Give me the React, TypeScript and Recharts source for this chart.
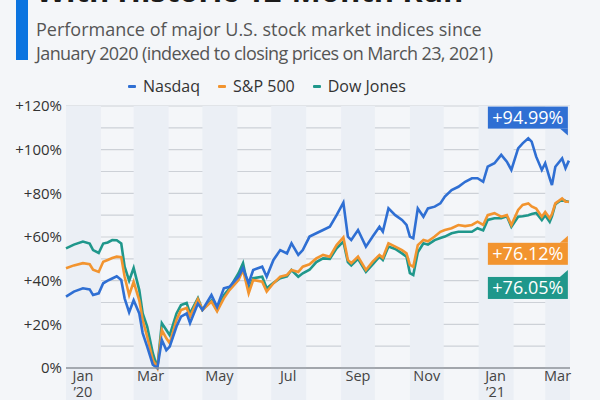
import { LineChart, Line, XAxis, YAxis, CartesianGrid, ReferenceArea, LabelList } from 'recharts';

// trading days counted from Jan 1, 2020
const days = [0, 7, 15, 21, 24, 29, 33, 37, 41, 45, 49, 52, 56, 60, 65, 68, 72, 77, 81, 85, 89, 92, 98, 102, 107, 110, 117, 121, 129, 134, 140, 145, 153, 157, 162, 166, 174, 178, 184, 190, 196, 200, 206, 210, 216, 222, 228, 234, 240, 246, 250, 253, 259, 266, 272, 278, 281, 286, 292, 298, 302, 305, 308, 312, 317, 321, 327, 332, 336, 342, 348, 354, 360, 365, 370, 374, 380, 386, 391, 395, 401, 405, 410, 413, 417, 422, 425, 429, 431, 434, 440, 443, 446];
const nasdaq = [32.7, 35, 36.5, 36, 33.4, 34.2, 38.8, 40, 41, 42, 40.3, 31.9, 25.5, 31, 25, 16, 9.8, 1.5, 0, 12.8, 8.2, 9.8, 19, 23.5, 25, 20.6, 29.5, 26.6, 33.4, 28, 36.5, 37.2, 41.8, 45.7, 38.8, 44.9, 46.4, 41.8, 49.5, 54, 52.5, 57.1, 51.8, 54, 60.2, 61.7, 63.2, 64.7, 70, 75.7, 60.2, 58.6, 63.2, 55.6, 60.2, 64.7, 62.5, 73.1, 70, 67.8, 65.5, 60.2, 59.4, 73.1, 69.3, 73.1, 73.9, 75.4, 78.5, 81.5, 83, 85.3, 86.9, 86.9, 85.3, 92.2, 93.8, 97.6, 94.5, 90.7, 100.6, 102.9, 105.2, 103.7, 96.8, 90.7, 93.8, 86.9, 83.8, 92.2, 96, 91.5, 94.99];
const sp500 = [45.7, 47, 48, 47.5, 45, 44, 48.7, 49.5, 50.4, 51, 50.8, 41.8, 33.4, 39.5, 31, 22, 14.3, 3.7, 0, 17.4, 13.6, 11.3, 22, 26.6, 27.5, 23.5, 31.5, 26.6, 30.4, 26, 31.9, 35.7, 40.3, 44.9, 34.2, 40.3, 39.5, 35, 38.8, 41.8, 42.6, 44.9, 44, 46.4, 47.5, 50.2, 51.8, 51, 56.3, 59.8, 49.5, 48, 51, 44.9, 48.7, 51.8, 50.5, 57.1, 55.6, 54, 52.5, 47.2, 46.4, 56.3, 58.6, 58, 60.2, 62.4, 63.2, 64, 65.5, 65, 65.5, 67, 65.5, 70, 70.9, 69.3, 70, 65.5, 72.4, 74.7, 75.4, 74, 73, 69.3, 71.5, 68.6, 70.5, 75.4, 77.7, 76.2, 76.12];
const dow = [54.8, 56.5, 57.9, 57, 54, 52.7, 57, 57.5, 58.6, 58.5, 57, 46.4, 40, 45.8, 35.7, 25, 19, 6.8, 0, 20.5, 17.4, 15, 25, 28.8, 29.8, 25, 32, 26.6, 31, 26.5, 33.4, 36.5, 43.4, 48, 35.7, 41.1, 41.8, 36.5, 39, 41.1, 42, 44.9, 41.8, 43.4, 45, 48.5, 50.2, 50, 54.8, 57.9, 48.5, 47, 50, 44, 47.5, 51, 49.5, 55.6, 54.5, 52.5, 51, 43.4, 42.6, 53, 57.1, 56.5, 58.6, 59.5, 60.2, 61.7, 62.4, 62.4, 62.4, 64, 63, 67.8, 68.6, 68.6, 69.5, 64.7, 69.3, 69.5, 70, 70.5, 71, 67.8, 70, 67, 69.5, 75, 77.2, 76.5, 76.05];

const shadedMonths = [[0, 31], [60, 91], [121, 152], [182, 213], [244, 274], [305, 335], [366, 397], [425, 447]];
const monthTicks = [15, 75, 136, 197, 259, 320, 381, 436];
const monthLabels = ['Jan', 'Mar', 'May', 'Jul', 'Sep', 'Nov', 'Jan', 'Mar'];
const yearLabels = ['’20', '', '', '', '', '', '’21', ''];
const yTicks = [0, 10, 20, 30, 40, 50, 60, 70, 80, 90, 100, 110, 120];

const data = days.map((d, i) => ({ day: d, nasdaq: nasdaq[i], sp500: sp500[i], dow: dow[i] }));

const FONT = '"Open Sans", sans-serif';
const BLUE = '#2f6fd3';
const ORANGE = '#f2942f';
const TEAL = '#1f978b';

const MonthTick = ({ x, y, payload }: any) => {
  const i = monthTicks.indexOf(payload.value);
  return (
    <g>
      <text x={x} y={y + 13} textAnchor="middle" fontSize={14.5} fill="#444" fontFamily={FONT}>{monthLabels[i]}</text>
      {yearLabels[i] && (
        <text x={x} y={y + 29} textAnchor="middle" fontSize={14.5} fill="#444" fontFamily={FONT}>{yearLabels[i]}</text>
      )}
    </g>
  );
};

const makeTag = (color: string, dy: number, tabUp: boolean) => (props: any) => {
  const { x, y, index, value } = props;
  if (index !== days.length - 1) return null;
  const x1 = x - 1;
  const x0 = x1 - 80;
  const y0 = y + dy;
  const y1 = y0 + 22;
  const tab = tabUp
    ? `${x1 - 8},${y0} ${x1},${y0} ${x1},${y0 - 7}`
    : `${x1 - 8},${y1} ${x1},${y1} ${x1},${y1 + 7}`;
  return (
    <g>
      <rect x={x0} y={y0} width={80} height={22} fill={color} />
      <polygon points={tab} fill={color} />
      <text x={(x0 + x1) / 2} y={y0 + 17} textAnchor="middle" fill="#fff" fontSize={18} fontFamily={FONT}>
        {`+${Number(value).toFixed(2)}%`}
      </text>
    </g>
  );
};

const legendItems = [
  { name: 'Nasdaq', color: BLUE },
  { name: 'S&P 500', color: ORANGE },
  { name: 'Dow Jones', color: TEAL },
];

export default function App() {
  return (
    <div style={{ position: 'absolute', left: 0, top: 0, width: 600, height: 400, background: '#f4f6f9', overflow: 'hidden', fontFamily: FONT }}>
      <div style={{ position: 'absolute', left: 16, top: 0, width: 12, height: 60, background: '#0b74e0' }} />
      <div style={{ position: 'absolute', left: 36, top: -31, fontSize: 31, fontWeight: 700, color: '#1b1b1b', whiteSpace: 'nowrap' }}>
        With Historic 12-Month Run
      </div>
      <div style={{ position: 'absolute', left: 36, top: 17, fontSize: 18, lineHeight: '24px', color: '#555', whiteSpace: 'nowrap' }}>
        <div>Performance of major U.S. stock market indices since</div>
        <div style={{ letterSpacing: -0.6 }}>January 2020 (indexed to closing prices on March 23, 2021)</div>
      </div>
      <div style={{ position: 'absolute', left: 128, top: 75, display: 'flex', gap: 18, fontSize: 16, color: '#333' }}>
        {legendItems.map((it) => (
          <div key={it.name} style={{ display: 'flex', alignItems: 'center' }}>
            <span style={{ display: 'inline-block', width: 8, height: 3, borderRadius: 1, background: it.color, marginRight: 7 }} />
            {it.name}
          </div>
        ))}
      </div>
      <div style={{ position: 'absolute', left: 0, top: 0 }}>
        <LineChart width={600} height={400} data={data} margin={{ top: 106, right: 30, bottom: 2, left: 8 }}>
          {shadedMonths.map(([a, b], i) => (
            <ReferenceArea key={i} x1={a} x2={b} y1={-15} y2={120} ifOverflow="visible" fill="#ebeff5" fillOpacity={1} stroke="none" />
          ))}
          <CartesianGrid vertical={false} stroke="#cdd1d7" strokeWidth={1.2} />
          <XAxis
            type="number"
            dataKey="day"
            domain={[0, 447]}
            ticks={monthTicks}
            tick={<MonthTick />}
            height={30}
            tickLine={false}
            tickSize={0}
            tickMargin={0}
            axisLine={{ stroke: '#8d9299', strokeWidth: 1.5 }}
            interval={0}
          />
          <YAxis
            type="number"
            domain={[0, 120]}
            ticks={yTicks}
            interval={0}
            width={58}
            axisLine={false}
            tickLine={false}
            tickSize={0}
            tickMargin={4}
            tick={{ fontSize: 15, fill: '#333', fontFamily: FONT }}
            tickFormatter={(v: number) => (v % 20 !== 0 ? '' : v === 0 ? '0%' : `+${v}%`)}
          />
          <Line type="linear" dataKey="dow" stroke={TEAL} strokeWidth={2.6} dot={false} isAnimationActive={false}>
            <LabelList dataKey="dow" content={makeTag(TEAL, 75, true)} />
          </Line>
          <Line type="linear" dataKey="sp500" stroke={ORANGE} strokeWidth={2.6} dot={false} isAnimationActive={false}>
            <LabelList dataKey="sp500" content={makeTag(ORANGE, 41, true)} />
          </Line>
          <Line type="linear" dataKey="nasdaq" stroke={BLUE} strokeWidth={2.6} dot={false} isAnimationActive={false}>
            <LabelList dataKey="nasdaq" content={makeTag(BLUE, -54, false)} />
          </Line>
        </LineChart>
      </div>
    </div>
  );
}
